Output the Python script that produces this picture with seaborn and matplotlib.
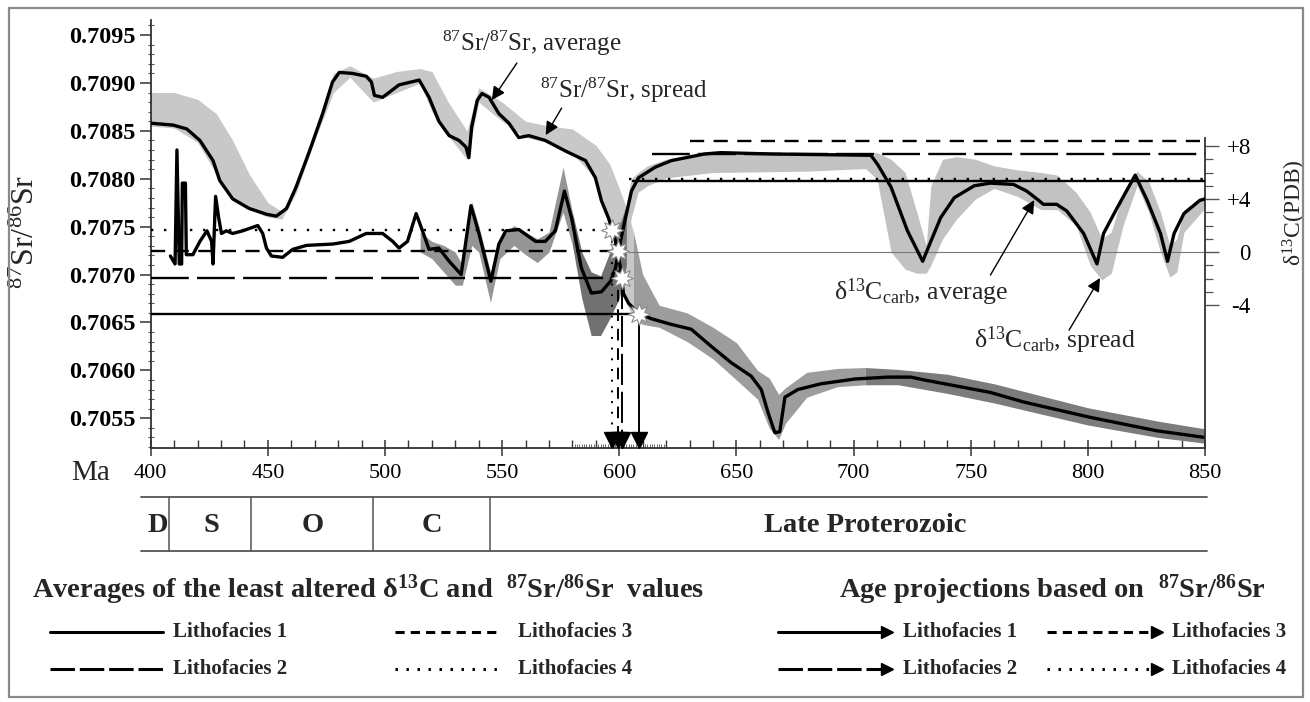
import numpy as np
import pandas as pd
import matplotlib
matplotlib.use("Agg")
import matplotlib.pyplot as plt
import matplotlib.transforms as mtransforms
from matplotlib.lines import Line2D
from matplotlib.patches import Rectangle
from matplotlib.ticker import MultipleLocator, FixedLocator
import seaborn as sns

# ---------------- data ----------------
sr_age = [400, 409.6, 415.4, 421, 426.6, 429.5, 435, 442, 449.4, 453.6, 458, 462, 467.8,
          473.4, 477.6, 480.5, 486, 492, 494.2, 495.5, 499, 506, 514.6, 518.8, 523, 527.4,
          531.6, 534.6, 535.8, 537, 539.4, 541.4, 544.4, 548.6, 552.9, 557.1, 561.4, 568.4,
          577, 585.6, 589.8, 592.4, 595.4, 598.4, 600.5, 601.8, 604, 608, 613.6, 622.2,
          630.7, 639.3, 647.8, 656.3, 660.6, 663.5, 666.4, 668.5, 670.7, 676.2, 686, 700.5,
          714.7, 724.4, 730.2, 758.4, 772.6, 801, 829.4, 850]
sr_avg = [0.70858, 0.70856, 0.70852, 0.70840, 0.70819, 0.70798, 0.70779, 0.70769, 0.70763,
          0.70761, 0.70769, 0.70791, 0.70829, 0.70868, 0.70901, 0.70911, 0.70910, 0.70907,
          0.70901, 0.70887, 0.70885, 0.70898, 0.70903, 0.70885, 0.70860, 0.70845, 0.70840,
          0.70833, 0.70822, 0.70854, 0.70882, 0.70889, 0.70885, 0.70868, 0.70858, 0.70843,
          0.70845, 0.70840, 0.70829, 0.70819, 0.70801, 0.70777, 0.70759, 0.70735, 0.70707,
          0.70680, 0.70670, 0.70660, 0.70654, 0.70648, 0.70643, 0.70625, 0.70608, 0.70594,
          0.70580, 0.70556, 0.70535, 0.70536, 0.70572, 0.70580, 0.70586, 0.70591, 0.70593,
          0.70593, 0.70590, 0.70577, 0.70567, 0.70551, 0.70537, 0.70530]

sr_band_age = [400, 410, 420, 428, 435, 442, 450, 456, 462, 470, 478, 485, 495, 505, 515,
               520, 527, 535, 540, 550, 560, 570, 580, 590, 596, 600, 603, 606, 610, 617,
               629, 640, 650, 659, 664, 668, 671, 680, 693, 705, 719, 740, 760, 800, 830, 850]
sr_band_lo = [0.70855, 0.70853, 0.70838, 0.70805, 0.70778, 0.70768, 0.70760, 0.70758,
              0.70785, 0.70840, 0.70890, 0.70906, 0.70880, 0.70890, 0.70900, 0.70870,
              0.70845, 0.70820, 0.70880, 0.70860, 0.70843, 0.70838, 0.70826, 0.70800,
              0.70755, 0.70705, 0.70670, 0.70655, 0.70648, 0.70645, 0.70630, 0.70612,
              0.70590, 0.70570, 0.70540, 0.70528, 0.70545, 0.70572, 0.70583, 0.70585,
              0.70585, 0.70576, 0.70566, 0.70543, 0.70530, 0.70524]
sr_band_hi = [0.70890, 0.70890, 0.70883, 0.70868, 0.70840, 0.70805, 0.70775, 0.70766,
              0.70795, 0.70850, 0.70910, 0.70918, 0.70905, 0.70912, 0.70915, 0.70912,
              0.70880, 0.70850, 0.70895, 0.70880, 0.70860, 0.70855, 0.70852, 0.70835,
              0.70815, 0.70790, 0.70770, 0.70745, 0.70700, 0.70668, 0.70660, 0.70645,
              0.70629, 0.70600, 0.70592, 0.70575, 0.70582, 0.70598, 0.70602, 0.70603,
              0.70601, 0.70596, 0.70586, 0.70561, 0.70547, 0.70539]

c_age = [408.4, 410.4, 411.2, 412.2, 413.2, 413.5, 414.8, 415.2, 418, 421, 424, 426,
         426.6, 427.7, 429, 430.2, 432.3, 435, 439.3, 445.7, 447.8, 449.4, 451.5, 456.3,
         460.6, 466.5, 477.6, 484.7, 492, 499, 503.3, 506, 509.6, 513.3, 516, 518.8, 523,
         527.4, 532.5, 536.7, 540.1, 545.2, 548.6, 551.6, 557.1, 564.3, 568.4, 572.7,
         576.6, 579.6, 583.8, 588.1, 592.4, 596.3, 598.4, 600.5, 602.7, 605.2, 608.2,
         615.3, 622.2, 636.4, 643.3, 664.8, 707.4, 710.3, 716, 723, 729.5, 732.5, 737.2,
         743, 751.5, 758.4, 768.3, 773.9, 779, 781, 786.7, 791, 798.2, 803.9, 806.7,
         812.4, 820.2, 825.3, 831, 834, 836.8, 841, 847.8, 850]
c_avg = [-0.3, -0.9, 7.7, -0.9, -0.9, 5.2, 5.2, -0.2, -0.2, 0.8, 1.6, 0.8,
         -0.9, 4.2, 2.6, 1.4, 1.6, 1.4, 1.6, 2.0, 1.4, 0.3, -0.3, -0.4,
         0.2, 0.5, 0.6, 0.8, 1.4, 1.4, 0.8, 0.3, 0.8, 2.9, 1.6, 0.2, 0.3,
         -0.7, -1.7, 3.5, 1.4, -2.2, 0.6, 1.6, 1.7, 0.8, 0.8, 1.6,
         4.6, 2.6, -1.2, -3.1, -3.0, -2.2, -1.2, 0.8, 2.6, 4.6, 5.6,
         6.4, 6.9, 7.4, 7.5, 7.4, 7.3, 6.6, 4.9, 1.6, -0.7, 0.6, 2.6,
         4.1, 5.0, 5.2, 5.1, 4.6, 3.9, 3.6, 3.6, 3.1, 1.4, -0.9, 1.4,
         3.3, 5.8, 3.9, 1.4, -0.7, 1.4, 2.9, 3.9, 4.0]

c_band_age = [515, 520, 525, 530, 533, 537, 540, 545, 549, 555, 560, 565, 570, 576, 580,
              584, 588, 592, 596, 600, 603, 605, 608, 612, 620, 640, 680, 705, 710, 716,
              722, 727, 731, 733, 738, 744, 752, 760, 770, 780, 787, 795, 801, 806, 810,
              815, 821, 826, 831, 835, 838, 841, 850]
c_band_lo = [0.0, -0.5, -1.5, -2.5, -2.5, 0.5, 0.0, -3.8, -0.5, 0.5, -0.2, -0.8, 0.0,
             3.0, 0.5, -3.5, -6.3, -6.3, -5.0, -3.5, -1.0, 2.5, 4.5, 5.0, 5.6, 6.0, 6.1,
             6.3, 5.5, 0.0, -1.3, -1.6, -1.6, -1.0, 1.0, 2.5, 4.0, 4.8, 4.2, 3.2, 3.2,
             2.0, -1.0, -2.1, -1.6, 2.0, 5.0, 3.0, 0.0, -1.9, -1.5, 1.5, 3.3]
c_band_hi = [1.5, 0.8, 0.5, 0.0, -1.0, 3.8, 2.0, -1.5, 1.0, 2.0, 1.5, 1.0, 1.5,
             6.4, 3.0, 0.0, -1.5, -1.8, 0.0, 2.0, 3.5, 5.5, 6.0, 6.5, 7.0, 7.6, 7.5,
             7.5, 7.5, 7.0, 6.0, 3.0, 0.5, 5.0, 7.0, 7.2, 7.0, 6.5, 6.2, 6.0, 5.8,
             4.5, 3.0, 1.0, 1.5, 4.5, 6.1, 5.3, 3.0, 0.5, 1.0, 3.2, 4.3]

litho_names = ["Lithofacies 1", "Lithofacies 2", "Lithofacies 3", "Lithofacies 4"]
litho_sr = [0.70659, 0.70696, 0.70725, 0.70747]          # averaged 87Sr/86Sr
litho_age = [608.5, 601.3, 599.3, 597.0]                  # projected ages (Ma)
litho_c = [5.35, 7.4, 8.4, 5.5]                           # averaged d13C
litho_c_start = [606, 614, 630, 604]

period_names = ["D", "S", "O", "C", "Late Proterozoic"]
period_bounds = [396, 408, 443, 495, 545, 851]
period_label_x = [403, 426, 469, 520, 705]

sr_ticks = [0.7055, 0.7060, 0.7065, 0.7070, 0.7075, 0.7080, 0.7085, 0.7090, 0.7095]
c_ticks = [8, 4, 0, -4]
c_tick_labels = ["+8", "+4", "0", "-4"]
age_ticks = [400, 450, 500, 550, 600, 650, 700, 750, 800, 850]

# ---------------- styling ----------------
sns.set_theme(style="white")
plt.rcParams["font.family"] = ["Liberation Serif", "DejaVu Serif"]
plt.rcParams["mathtext.fontset"] = "custom"
plt.rcParams["mathtext.rm"] = "Liberation Serif"
plt.rcParams["mathtext.it"] = "Liberation Serif:italic"
plt.rcParams["mathtext.bf"] = "Liberation Serif:bold"
plt.rcParams["mathtext.default"] = "regular"

W, H = 1310, 702
fig = plt.figure(figsize=(W / 100, H / 100), dpi=100)
fig.patch.set_facecolor("white")


def fx(px):
    return px / W


def fy(py):
    return 1 - py / H


ax = fig.add_axes([fx(150.7), fy(448), (1205 - 150.7) / W, (448 - 20) / H])
ax2 = ax.twinx()
ax.set_facecolor("white")

XL = (400, 850)
YL = (0.70519, 0.709657)
CL = (-14.79, 17.51)

SR_LIGHT = "#c8c8c8"
SR_MID = "#9d9d9d"
SR_DARK = "#7c7c7c"
C_MID = "#959595"
C_DARK = "#717171"
C_LIGHT = "#c2c2c2"

styles = ["-", (0, (16, 3.5)), (0, (6, 4)), (0, (1, 4.5))]
legend_styles = ["-", (0, (8, 1.6)), (0, (3, 2)), (0, (0.8, 2.8))]

sr_df = pd.DataFrame({"age": sr_age, "sr": sr_avg})
c_df = pd.DataFrame({"age": c_age, "d13c": c_avg})
srb = pd.DataFrame({"age": sr_band_age, "lo": sr_band_lo, "hi": sr_band_hi})
cb = pd.DataFrame({"age": c_band_age, "lo": c_band_lo, "hi": c_band_hi})

# bands (all on the lower axes so every curve lies on top)
ax.fill_between(srb.age, srb.lo, srb.hi, where=srb.age <= 606, color=SR_LIGHT, lw=0, zorder=1)
ax.fill_between(srb.age, srb.lo, srb.hi, where=(srb.age >= 606) & (srb.age <= 705),
                color=SR_MID, lw=0, zorder=1)
ax.fill_between(srb.age, srb.lo, srb.hi, where=srb.age >= 705, color=SR_DARK, lw=0, zorder=1)
ax.fill_between(cb.age, cb.lo, cb.hi, where=cb.age <= 580, color=C_MID, lw=0, zorder=1.2,
                transform=ax2.transData)
ax.fill_between(cb.age, cb.lo, cb.hi, where=(cb.age >= 580) & (cb.age <= 603), color=C_DARK,
                lw=0, zorder=1.2, transform=ax2.transData)
ax.fill_between(cb.age, cb.lo, cb.hi, where=cb.age >= 603, color=C_LIGHT, lw=0, zorder=1.1,
                transform=ax2.transData)

# Sr lithofacies lines + projection arrows
for i in range(4):
    ax.plot([XL[0], litho_age[i]], [litho_sr[i], litho_sr[i]], color="black",
            ls=styles[i], lw=1.7, zorder=3)
    ax.plot([litho_age[i], litho_age[i]], [litho_sr[i], YL[0]], color="black",
            ls=styles[i], lw=1.4, zorder=3)
    off = mtransforms.ScaledTranslation(0, 5.5 / 72, fig.dpi_scale_trans)
    ax.plot([litho_age[i]], [YL[0]], marker="v", ms=11, color="black",
            transform=ax.transData + off, clip_on=False, zorder=4)

# Sr curve
sns.lineplot(data=sr_df, x="age", y="sr", ax=ax, color="black", lw=2.4,
             estimator=None, errorbar=None, sort=False, zorder=5)

# d13C curve and lines
sns.lineplot(data=c_df, x="age", y="d13c", ax=ax2, color="black", lw=2.4,
             estimator=None, errorbar=None, sort=False, zorder=5)
ax2.plot([604, XL[1]], [0, 0], color="#777777", lw=0.8, zorder=2)
for i in range(4):
    ax2.plot([litho_c_start[i], XL[1]], [litho_c[i], litho_c[i]], color="black",
             ls=styles[i], lw=1.7, zorder=4)

# stars at intersections
ax2.plot(litho_age, litho_sr, transform=ax.transData, ls="none", marker=(8, 1, 0),
         ms=16, mfc="white", mec="#8a8a8a", mew=0.8, zorder=6)

# annotations
ap = dict(arrowstyle="-|>", lw=1.0, color="black", mutation_scale=20, shrinkA=0, shrinkB=0)
ax.text(562.7, 0.709416, "$^{87}$Sr/$^{87}$Sr, average", ha="center", va="center", fontsize=18)
ax.annotate("", xy=(545.6, 0.708821), xytext=(556.3, 0.709208), arrowprops=ap)
ax.text(601.8, 0.708926, "$^{87}$Sr/$^{87}$Sr, spread", ha="center", va="center", fontsize=18)
ax.annotate("", xy=(568.6, 0.708456), xytext=(575.4, 0.708738), arrowprops=ap)
ax2.text(729, -3.02, "δ$^{13}$C$_{carb}$, average", ha="center", va="center", fontsize=18.5)
ax2.annotate("", xy=(777.1, 3.92), xytext=(758.4, -1.74), arrowprops=ap)
ax2.text(786, -6.64, "δ$^{13}$C$_{carb}$, spread", ha="center", va="center", fontsize=18.5)
ax2.annotate("", xy=(805.2, -1.96), xytext=(792, -5.89), arrowprops=ap)

# axes formatting
ax.set_xlim(*XL)
ax.set_ylim(*YL)
ax2.set_ylim(*CL)
ax.set_xlabel("")
ax.set_ylabel("$^{87}$Sr/$^{86}$Sr", fontsize=23)
ax.yaxis.set_label_coords(-0.104, 0.505)
ax2.set_ylabel("δ$^{13}$C(PDB)", fontsize=17)
ax2.yaxis.set_label_coords(1.072, 0.551)

for s in ["top", "right"]:
    ax.spines[s].set_visible(False)
for s in ["top", "left", "bottom"]:
    ax2.spines[s].set_visible(False)
ax2.spines["right"].set_bounds(CL[0], 8.6)
for a in (ax, ax2):
    for s in a.spines.values():
        s.set_color("#333333")
        s.set_linewidth(1.3)

ax.set_xticks(age_ticks)
ax.set_xticklabels([str(v) for v in age_ticks])
ax.xaxis.set_minor_locator(MultipleLocator(10))
ax.tick_params(axis="x", which="major", bottom=True, direction="inout", length=11,
               width=1.1, labelsize=16, pad=6, colors="#333333", labelcolor="black")
ax.tick_params(axis="x", which="minor", bottom=True, direction="in", length=6, width=1.0,
               colors="#333333")
ax.set_yticks(sr_ticks)
ax.set_yticklabels([f"{v:.4f}" for v in sr_ticks])
ax.yaxis.set_minor_locator(MultipleLocator(0.0001))
ax.tick_params(axis="y", which="major", left=True, direction="out", length=8, width=1.1,
               labelsize=17.5, pad=3, colors="#333333", labelcolor="black")
ax.tick_params(axis="y", which="minor", left=True, direction="inout", length=4, width=0.8,
               colors="#555555")
for lab in ax.get_yticklabels():
    lab.set_fontweight("bold")

ax2.set_yticks(c_ticks)
ax2.set_yticklabels(c_tick_labels)
ax2.yaxis.set_minor_locator(FixedLocator([-3, -2, -1, 1, 2, 3, 5, 6, 7]))
ax2.tick_params(axis="y", which="major", right=True, direction="out", length=10, width=1.0,
                labelsize=16.5, pad=23, colors="#555555", labelcolor="black")
ax2.tick_params(axis="y", which="minor", right=True, direction="out", length=6, width=0.9,
                colors="#555555")
for lab in ax2.get_yticklabels():
    lab.set_horizontalalignment("right")

# fine 1-Ma ticks around 600 Ma
sec = ax.secondary_xaxis("bottom")
sec.set_xticks(list(range(580, 621)))
sec.tick_params(axis="x", direction="in", length=3, width=0.6, labelbottom=False,
                colors="#555555")
sec.spines["bottom"].set_visible(False)

# "Ma"
fig.text(fx(91), fy(473), "Ma", ha="center", va="center", fontsize=21)

# period bar
trans = mtransforms.blended_transform_factory(ax.transData, fig.transFigure)
for yy in (497, 551):
    fig.add_artist(Line2D([period_bounds[0], period_bounds[-1]], [fy(yy), fy(yy)],
                          transform=trans, color="#555555", lw=1.3))
for b in period_bounds[1:-1]:
    fig.add_artist(Line2D([b, b], [fy(497), fy(551)], transform=trans, color="#555555", lw=1.1))
for name, xc in zip(period_names, period_label_x):
    fig.text(xc, fy(525), name, transform=trans, ha="center", va="center",
             fontsize=20.5, fontweight="bold")

# legends
fig.text(fx(368), fy(590), "Averages of the least altered δ$^{13}$C and  $^{87}$Sr/$^{86}$Sr  values",
         ha="center", va="center", fontsize=20.5, fontweight="bold")
fig.text(fx(1052), fy(590), "Age projections based on  $^{87}$Sr/$^{86}$Sr",
         ha="center", va="center", fontsize=20.5, fontweight="bold")

rows = [632, 669]
left_cols = [(50, 163, 173), (395, 500, 518)]
right_cols = [(778, 884, 903), (1047, 1154, 1172)]
order = [(0, 0), (1, 0), (0, 1), (1, 1)]  # (row, col) for Lithofacies 1..4
for i, (r, c) in enumerate(order):
    yv = fy(rows[r])
    x0, x1, xt = left_cols[c]
    fig.add_artist(Line2D([fx(x0), fx(x1)], [yv, yv], color="black", ls=legend_styles[i],
                          lw=2.2))
    fig.text(fx(xt), yv, litho_names[i], ha="left", va="center", fontsize=15,
             fontweight="bold")
    x0, x1, xt = right_cols[c]
    fig.add_artist(Line2D([fx(x0), fx(x1)], [yv, yv], color="black", ls=legend_styles[i],
                          lw=2.2))
    fig.add_artist(Line2D([fx(x1 + 3)], [yv], color="black", marker=">", ms=9, ls="none"))
    fig.text(fx(xt), yv, litho_names[i], ha="left", va="center", fontsize=15,
             fontweight="bold")

# outer frame
fig.add_artist(Rectangle((fx(9), fy(697)), fx(1303) - fx(9), fy(8) - fy(697),
                         transform=fig.transFigure, fill=False, edgecolor="#8a8a8a", lw=1.6))

fig.savefig("out.png", dpi=100, facecolor="white")
